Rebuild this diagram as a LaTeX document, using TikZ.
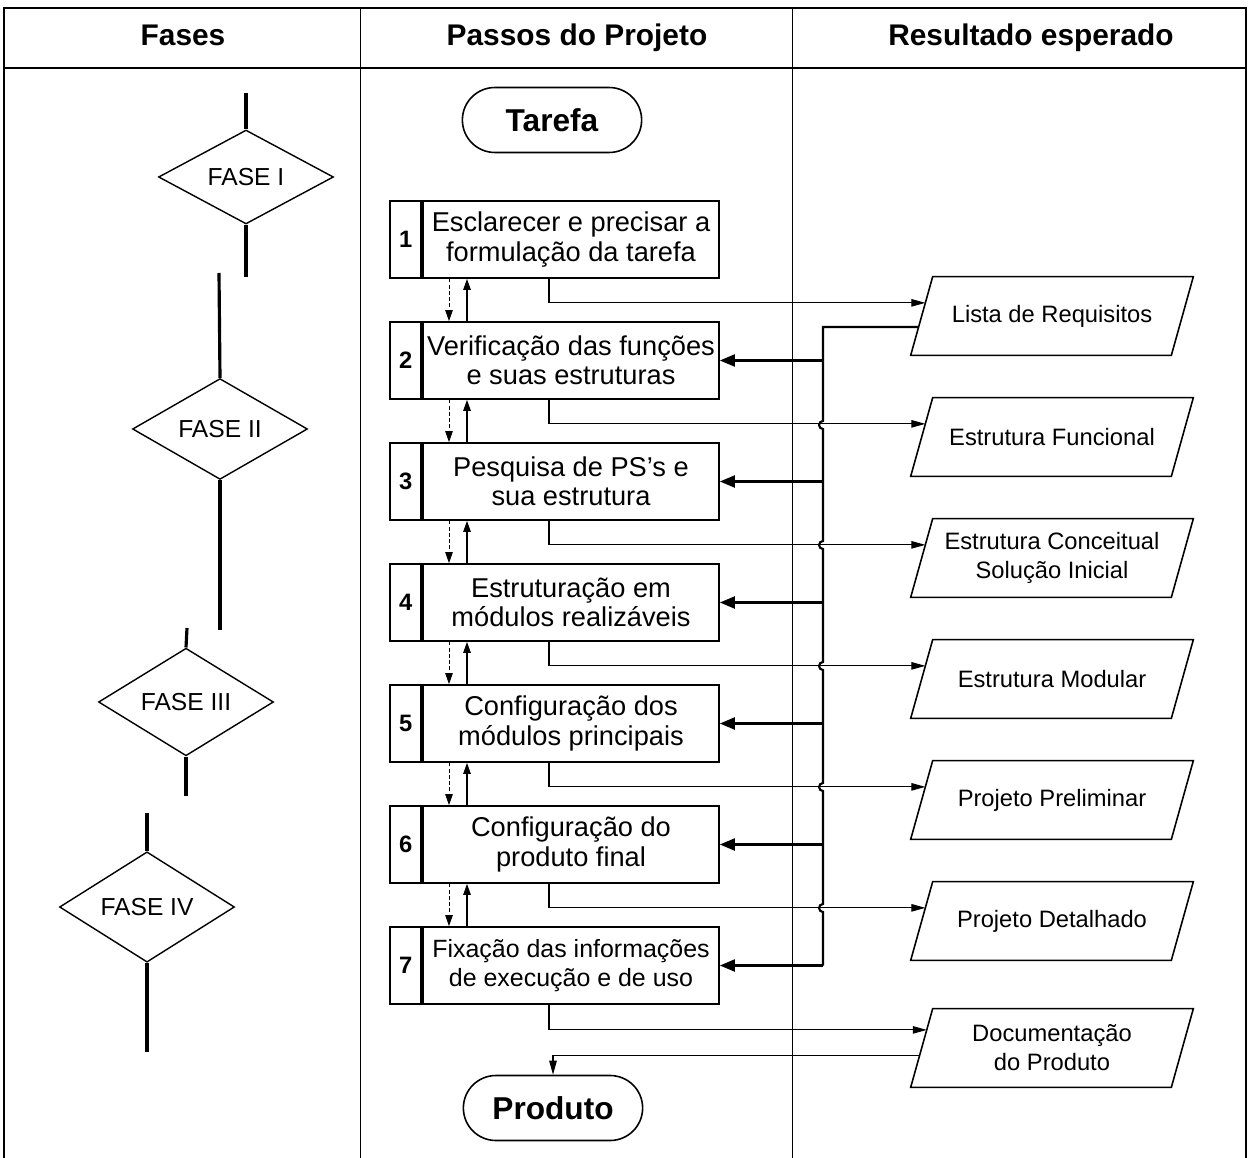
\documentclass[tikz,border=0pt]{standalone}
\usepackage{fontspec}
\setmainfont{Liberation Sans}
\usetikzlibrary{shapes.geometric,shapes.misc,arrows.meta,calc}

\begin{document}
\begin{tikzpicture}[x=0.02cm,y=-0.02cm,
  hdr/.style={anchor=base,font=\bfseries\fontsize{17}{20}\selectfont},
  stepbox/.style={draw,line width=1pt,minimum width=5.92cm,minimum height=1.54cm,
    inner sep=0pt,align=center},
  numbox/.style={draw,line width=1pt,minimum width=0.62cm,minimum height=1.54cm,
    inner sep=0pt,font=\bfseries\fontsize{13.5}{15}\selectfont},
  phase/.style={diamond,draw,line width=0.8pt,minimum width=3.5cm,minimum height=1.84cm,
    inner sep=0pt,font=\fontsize{14}{16}\selectfont},
  phaseline/.style={line width=1.8pt},
  result/.style={minimum width=5.2cm,minimum height=1.56cm,
    inner sep=0pt,align=center,font=\fontsize{13.5}{16.5}\selectfont},
  resultborder/.style={line width=0.9pt,line join=miter},
  terminal/.style={rounded rectangle,draw,line width=0.9pt,minimum width=3.82cm,
    minimum height=1.3cm,font=\bfseries\fontsize{18}{20}\selectfont},
  outarrow/.style={line width=0.6pt,-{Triangle[length=0.28cm,width=0.15cm]}},
  fbline/.style={line width=1.2pt},
  fbarrow/.style={line width=1.2pt,-{Triangle[length=0.3cm,width=0.24cm]}},
  fwd/.style={line width=0.5pt,dash pattern=on 2pt off 1.5pt,-{Triangle[length=0.22cm,width=0.15cm]}},
  back/.style={line width=0.6pt,-{Triangle[length=0.22cm,width=0.15cm]}},
  divider/.style={line width=0.5pt},
  frame/.style={line width=1pt}
]
\useasboundingbox (0,0) rectangle (1250,1158);

% table frame and column headers
\draw[frame] (4,1158) -- (4,8) -- (1246,8) -- (1246,1158);
\draw[frame] (4,68) -- (1246,68);
\draw[divider] (360,8) -- (360,1158);
\draw[divider] (792,8) -- (792,1158);
\node[hdr] (h1) at (183,46) {Fases};
\node[hdr] (h2) at (577,46) {Passos do Projeto};
\node[hdr] (h3) at (1031,46) {Resultado esperado};

% phases
\node[phase] (f1) at (246,177) {FASE I};
\node[phase] (f2) at (220,429) {FASE II};
\node[phase] (f3) at (186,702) {FASE III};
\node[phase] (f4) at (147,907) {FASE IV};
\coordinate (f1a) at (246,93);   \coordinate (f1b) at (246,277);
\coordinate (f2a) at (219,273);  \coordinate (f2b) at (220,630);
\coordinate (f3a) at (187,628);  \coordinate (f3b) at (186,796);
\coordinate (f4a) at (147,813);  \coordinate (f4b) at (147,1052);
\foreach \f in {1,2,3,4}{
  \draw[phaseline] (f\f a) -- (f\f.north);
  \draw[phaseline] (f\f.south) -- (f\f b);
}

% start and end
\node[terminal] (task) at (552,120) {Tarefa};
\node[terminal] (prod) at (553,1108) {Produto};

% project steps
\foreach \i/\y/\fs/\t in {
  1/239.5/15.5/{Esclarecer e precisar a\\formulação da tarefa},
  2/360.5/15.5/{Verificação das funções\\e suas estruturas},
  3/481.5/15.5/{Pesquisa de PS's e\\sua estrutura},
  4/602.5/15.5/{Estruturação em\\módulos realizáveis},
  5/723.5/15.5/{Configuração dos\\módulos principais},
  6/844.5/15.5/{Configuração do\\produto final},
  7/965.5/14.2/{Fixação das informações\\de execução e de uso}}{
  \node[stepbox,font=\fontsize{\fs}{16.6}\selectfont] (s\i) at (571,\y) {\t};
  \node[numbox,anchor=east] (n\i) at (s\i.west) {\i};
}

% expected results, drawn as parallelograms leaning right
\foreach \i/\y/\t in {
  1/316/{Lista de Requisitos},
  2/437/{Estrutura Funcional},
  3/558/{Estrutura Conceitual\\Solução Inicial},
  4/679/{Estrutura Modular},
  5/800/{Projeto Preliminar},
  6/921/{Projeto Detalhado},
  7/1048/{Documentação\\do Produto}}{
  \node[result] (r\i) at (1052,\y) {\t};
  \coordinate (rbl\i) at ([xshift=-0.22cm]r\i.south west);
  \coordinate (rtl\i) at ([xshift=0.22cm]r\i.north west);
  \coordinate (rtr\i) at ([xshift=0.22cm]r\i.north east);
  \coordinate (rbr\i) at ([xshift=-0.22cm]r\i.south east);
  \draw[resultborder] (rbl\i) -- (rtl\i) -- (rtr\i) -- (rbr\i) -- cycle;
}

% forward (dashed) and backward links between consecutive steps
\coordinate (fx) at (449,0);
\coordinate (bx) at (467,0);
\foreach \i/\j in {1/2,2/3,3/4,4/5,5/6,6/7}{
  \draw[fwd] (s\i.south -| fx) -- (s\j.north -| fx);
  \draw[back] (s\j.north -| bx) -- (s\i.south -| bx);
}

% each step delivers its result (arrow meets the slanted left side)
\foreach \i/\t in {1/0.667,2/0.667,3/0.667,4/0.667,5/0.667,6/0.667,7/0.73}{
  \draw[outarrow] ([xshift=-0.44cm]s\i.south) |- ($(rbl\i)!\t!(rtl\i)$);
}

% feedback bus from the requirement list back to the steps
\coordinate (busstart) at ($(rbl1)!0.36!(rtl1)$);
\coordinate (bus) at (823,0);
\draw[fbline] (busstart)
  -- (bus |- busstart)
  -- (823,421) arc[start angle=90,end angle=270,radius=0.08cm]
  -- (823,541) arc[start angle=90,end angle=270,radius=0.08cm]
  -- (823,662) arc[start angle=90,end angle=270,radius=0.08cm]
  -- (823,783) arc[start angle=90,end angle=270,radius=0.08cm]
  -- (823,904) arc[start angle=90,end angle=270,radius=0.08cm]
  -- (bus |- s7.east);
\foreach \i in {2,...,7}{
  \draw[fbarrow] (bus |- s\i.east) -- (s\i.east);
}

% product documentation leads to the final product
\draw[outarrow] ($(rbl7)!0.41!(rtl7)$) -| (prod.north);
\end{tikzpicture}
\end{document}
